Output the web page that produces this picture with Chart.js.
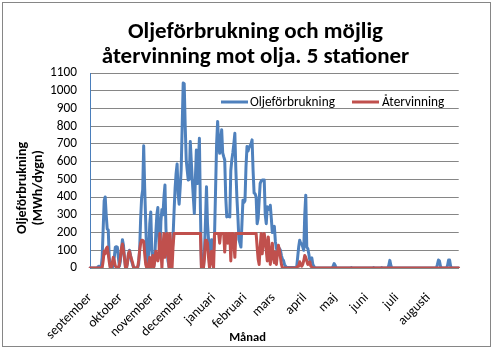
<!DOCTYPE html>
<html>
<head>
<meta charset="utf-8">
<script src="https://cdn.jsdelivr.net/npm/chart.js@4/dist/chart.umd.min.js"></script>
<style>
  body { margin: 0; background: #fff; }
  #wrap { width: 492px; height: 349px; }
</style>
</head>
<body>
<div id="wrap"><canvas id="c" width="492" height="349"></canvas></div>
<script>
// months of the season, september -> augusti
var months = ['september', 'oktober', 'november', 'december', 'januari', 'februari',
              'mars', 'april', 'maj', 'juni', 'juli', 'augusti'];
var monthDays = [30, 31, 30, 31, 31, 28, 31, 30, 31, 30, 31, 31];

// daily values, MWh/dygn
var oilUse = [
  0,0,0,0,0,0,0,0,8,10,
  5,0,60,220,380,401,300,220,215,60,
  10,0,0,20,60,118,120,118,60,10,
  40,100,160,130,60,5,0,30,80,100,
  70,40,20,5,0,0,0,5,20,100,
  280,400,440,689,450,260,60,10,100,250,
  316,100,40,10,60,200,300,341,150,80,
  265,330,300,400,468,220,100,40,10,10,
  40,60,180,320,450,534,587,420,360,450,
  553,800,1044,1040,800,609,550,496,500,713,
  600,496,400,307,500,666,476,600,732,330,
  15,5,5,100,265,458,250,160,20,60,
  160,130,100,200,450,704,827,700,647,720,
  780,650,628,609,400,288,300,290,288,550,
  609,650,700,760,553,400,290,160,140,118,
  250,382,370,380,571,685,660,680,690,700,
  723,550,422,420,400,250,280,380,477,490,
  496,496,496,300,250,345,340,330,354,280,
  200,220,235,150,110,100,118,110,100,70,
  50,43,20,10,3,3,3,3,3,3,
  3,3,3,3,3,60,118,156,140,137,
  120,100,300,411,118,110,80,43,50,57,
  20,10,0,0,0,0,0,0,0,0,
  0,0,0,0,0,0,0,0,0,0,
  10,25,15,0,0,0,0,0,0,0,
  0,0,0,0,0,0,0,0,3,0,
  0,0,0,0,0,0,0,0,0,0,
  0,0,0,0,0,0,0,0,0,0,
  3,0,0,0,0,0,0,0,3,0,
  0,0,0,0,0,15,43,15,0,0,
  0,0,0,0,0,0,0,0,0,0,
  0,0,0,0,0,0,0,0,0,0,
  0,0,0,0,0,0,0,0,0,0,
  0,0,0,0,0,0,0,0,0,0,
  0,0,0,20,45,40,10,0,0,0,
  0,0,0,15,45,45,10,0,0,0,
  0,0,0,0,0
];

var recovery = [
  0,0,0,0,0,0,0,0,0,0,
  0,0,0,40,95,80,110,118,80,35,
  0,0,30,60,40,10,5,0,0,20,
  60,110,135,100,60,5,0,30,80,95,
  70,50,30,5,0,0,0,0,40,100,
  140,156,156,150,80,20,0,0,30,60,
  0,30,70,5,40,95,60,40,70,195,
  100,0,120,195,60,120,195,100,0,195,
  100,0,120,195,195,195,195,195,195,195,
  195,195,195,195,195,195,195,195,195,195,
  195,195,195,195,195,195,195,195,195,195,
  0,0,0,55,156,156,140,60,0,50,
  95,30,0,195,195,195,195,195,140,195,
  195,195,195,90,195,195,140,195,195,40,
  195,195,140,60,195,195,195,195,195,195,
  195,195,195,195,195,195,195,195,195,195,
  195,195,195,195,195,118,50,20,120,195,
  80,140,195,156,100,40,175,100,20,80,
  140,60,30,90,20,80,128,100,60,20,
  0,0,0,0,0,0,0,0,0,0,
  0,0,0,0,0,10,10,35,20,10,
  20,40,70,60,40,20,30,35,10,5
];
while (recovery.length < oilUse.length) recovery.push(0);

var seriesNames = ['Oljeförbrukning', 'Återvinning'];
var titleLines = ['Oljeförbrukning och möjlig', 'återvinning mot olja. 5 stationer'];
var yTitle = ['Oljeförbrukning', '(MWh/dygn)'];
var xTitle = 'Månad';

// one label per day, month name on the first day
var dayLabels = [];
for (var m = 0; m < months.length; m++) {
  for (var d = 0; d < monthDays[m]; d++) dayLabels.push(d == 0 ? months[m] : '');
}

// excel puts the axis titles off the plot centre; trailing blanks shift them
var nb = '\u00a0';
var yTitleText = yTitle.map(function(t) { return t + nb.repeat(11); });
var xTitleText = xTitle + nb.repeat(19);

var FONT = 'Carlito, Lato, "Liberation Sans", sans-serif';
Chart.defaults.font.family = FONT;
Chart.defaults.color = '#000';

// frame round the whole picture
var framePlugin = {
  id: 'frame',
  beforeDraw: function(chart) {
    var ctx = chart.ctx;
    ctx.save();
    ctx.fillStyle = '#fff';
    ctx.fillRect(0, 0, chart.width, chart.height);
    ctx.strokeStyle = '#868686';
    ctx.lineWidth = 1;
    ctx.strokeRect(2.5, 2.5, 488, 344);
    ctx.restore();
  }
};

// legend sitting inside the plot, like the excel one
var innerLegend = {
  id: 'innerLegend',
  afterDraw: function(chart) {
    var ctx = chart.ctx;
    var pos = [[221, 250], [352, 382]];
    ctx.save();
    ctx.font = '13.3px ' + FONT;
    ctx.textBaseline = 'middle';
    chart.data.datasets.forEach(function(ds, i) {
      ctx.strokeStyle = ds.borderColor;
      ctx.lineWidth = 3;
      ctx.beginPath();
      ctx.moveTo(pos[i][0], 102);
      ctx.lineTo(pos[i][0] + 27, 102);
      ctx.stroke();
      ctx.fillStyle = '#000';
      ctx.fillText(ds.label, pos[i][1], 103);
    });
    ctx.restore();
  }
};

new Chart(document.getElementById('c'), {
  type: 'line',
  data: {
    labels: dayLabels,
    datasets: [{
      label: seriesNames[0],
      data: oilUse,
      borderColor: '#4F81BD',
      borderWidth: 3,
      pointRadius: 0,
      borderJoinStyle: 'round',
      borderCapStyle: 'round',
      order: 1
    }, {
      label: seriesNames[1],
      data: recovery,
      borderColor: '#C0504D',
      borderWidth: 3,
      pointRadius: 0,
      borderJoinStyle: 'round',
      borderCapStyle: 'round',
      order: 0
    }]
  },
  options: {
    responsive: false,
    animation: false,
    layout: { padding: { left: 19, right: 0, top: 0, bottom: 0 } },
    plugins: {
      legend: { display: false },
      tooltip: { enabled: false },
      title: {
        display: true,
        text: titleLines,
        font: { size: 23, weight: 'bold', lineHeight: 1.087 },
        color: '#000',
        padding: { top: 20, bottom: 3 }
      }
    },
    scales: {
      x: {
        grid: { display: false, drawTicks: false },
        border: { color: '#868686' },
        ticks: {
          autoSkip: false,
          maxRotation: 45,
          minRotation: 45,
          padding: 22,
          font: { size: 13.3 },
          callback: function(v, i) { return dayLabels[i]; }
        },
        title: {
          display: true,
          text: xTitleText,
          font: { size: 12.5, weight: 'bold' },
          padding: { top: 0, bottom: 4 }
        },
        afterFit: function(s) { s.height = 81; }
      },
      y: {
        min: 0,
        max: 1100,
        grid: { color: '#868686', drawTicks: false },
        border: { color: '#4A7EBB' },
        ticks: {
          stepSize: 100,
          autoSkip: false,
          padding: 13,
          font: { size: 13.3 },
          callback: function(v) { return String(v); }
        },
        title: {
          display: true,
          text: yTitleText,
          font: { size: 14, weight: 'bold', lineHeight: 1.1 },
          padding: { top: -4, bottom: 0 }
        },
        afterFit: function(s) { s.width = 71; }
      },
      // empty right-hand strip, keeps the plot off the right edge
      yRight: {
        position: 'right',
        display: true,
        grid: { display: false, drawTicks: false },
        border: { display: false },
        ticks: { display: false },
        afterFit: function(s) { s.width = 31; }
      }
    }
  },
  plugins: [framePlugin, innerLegend]
});
</script>
</body>
</html>
